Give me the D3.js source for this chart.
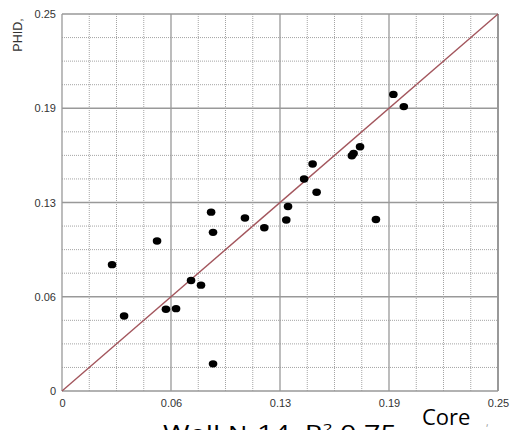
<!DOCTYPE html>
<html><head><meta charset="utf-8">
<script src="https://cdn.jsdelivr.net/npm/d3@7"></script>
<style>body{margin:0;background:#fff}svg{display:block}</style>
</head><body><svg id="c" width="517" height="430"></svg>
<script>
const coreValues = [0.0287,0.0356,0.0545,0.0596,0.0654,0.0740,0.0797,0.0855,0.0866,0.0866,0.1049,0.1160,0.1286,0.1296,0.1388,0.1437,0.1460,0.1662,0.1672,0.1709,0.1800,0.1900,0.1960];
const phidValues = [0.0838,0.0497,0.0995,0.0542,0.0546,0.0733,0.0702,0.1186,0.1052,0.0180,0.1147,0.1083,0.1134,0.1223,0.1406,0.1505,0.1318,0.1560,0.1575,0.1620,0.1137,0.1967,0.1886];
const tickValues = [0, 0.0625, 0.125, 0.1875, 0.25];
const tickLabels = ["0", "0.06", "0.13", "0.19", "0.25"];
const minorStep = 0.015625;
const fitLine = [[0,0],[0.25,0.25]];

const svg = d3.select("#c");
const x = d3.scaleLinear().domain([0,0.25]).range([62,498]);
const y = d3.scaleLinear().domain([0,0.25]).range([391,14]);
const minor = d3.range(0, 0.25 + 1e-9, minorStep).filter(v => !tickValues.some(t => Math.abs(t - v) < 1e-9));

const g = svg.append("g");
g.selectAll(".mx").data(minor).join("line")
  .attr("x1", d => x(d)).attr("x2", d => x(d)).attr("y1", y(0)).attr("y2", y(0.25))
  .attr("stroke", "#a4a4a4").attr("stroke-width", 1).attr("stroke-dasharray", "1,1");
g.selectAll(".my").data(minor).join("line")
  .attr("y1", d => y(d)).attr("y2", d => y(d)).attr("x1", x(0)).attr("x2", x(0.25))
  .attr("stroke", "#a4a4a4").attr("stroke-width", 1).attr("stroke-dasharray", "1,1");
g.selectAll(".Mx").data(tickValues).join("line")
  .attr("x1", d => x(d)).attr("x2", d => x(d)).attr("y1", y(0)).attr("y2", y(0.25))
  .attr("stroke", "#999").attr("stroke-width", d => (d === 0.25 ? 2 : 1.3));
g.selectAll(".My").data(tickValues).join("line")
  .attr("y1", d => y(d)).attr("y2", d => y(d)).attr("x1", x(0)).attr("x2", x(0.25))
  .attr("stroke", "#999").attr("stroke-width", 1.3);

const xAxis = d3.axisBottom(x).tickValues(tickValues).tickFormat((d,i) => tickLabels[i]).tickSize(0).tickPadding(8);
const yAxis = d3.axisLeft(y).tickValues(tickValues).tickFormat((d,i) => tickLabels[i]).tickSize(0).tickPadding(6);
const gx = svg.append("g").attr("transform", `translate(0,${y(0)})`).call(xAxis);
const gy = svg.append("g").attr("transform", `translate(${x(0)},0)`).call(yAxis);
[gx, gy].forEach(a => {
  a.select(".domain").remove();
  a.selectAll("text").attr("font-family", "Liberation Sans, Arial, sans-serif").attr("font-size", 11).attr("fill", "#333");
});

svg.append("line")
  .attr("x1", x(fitLine[0][0])).attr("y1", y(fitLine[0][1]))
  .attr("x2", x(fitLine[1][0])).attr("y2", y(fitLine[1][1]))
  .attr("stroke", "#a3565d").attr("stroke-width", 1.4);

svg.selectAll(".pt").data(coreValues).join("ellipse")
  .attr("cx", d => x(d)).attr("cy", (d,i) => y(phidValues[i]))
  .attr("rx", 4.3).attr("ry", 3.7).attr("fill", "#000");

svg.append("text").attr("transform", "translate(22,35) rotate(-90)")
  .attr("text-anchor", "middle").attr("font-family", "Liberation Sans, Arial, sans-serif")
  .attr("font-size", 12.5).attr("fill", "#333").text("PHID,");

svg.append("text").attr("x", 422).attr("y", 425)
  .attr("font-family", "Open Sans, sans-serif").attr("font-size", 22).attr("fill", "#000").text("Core");
svg.append("text").attr("x", 486).attr("y", 426)
  .attr("font-family", "Open Sans, sans-serif").attr("font-size", 10).attr("fill", "#999").text(",");
svg.append("text").attr("x", 163).attr("y", 441)
  .attr("font-family", "Open Sans, sans-serif").attr("font-size", 21).attr("fill", "#000")
  .attr("textLength", 234).attr("lengthAdjust", "spacingAndGlyphs")
  .html("Well №14, R<tspan dy='-8' font-size='13'>2</tspan><tspan dy='8'> 0.75</tspan>");
</script></body></html>
